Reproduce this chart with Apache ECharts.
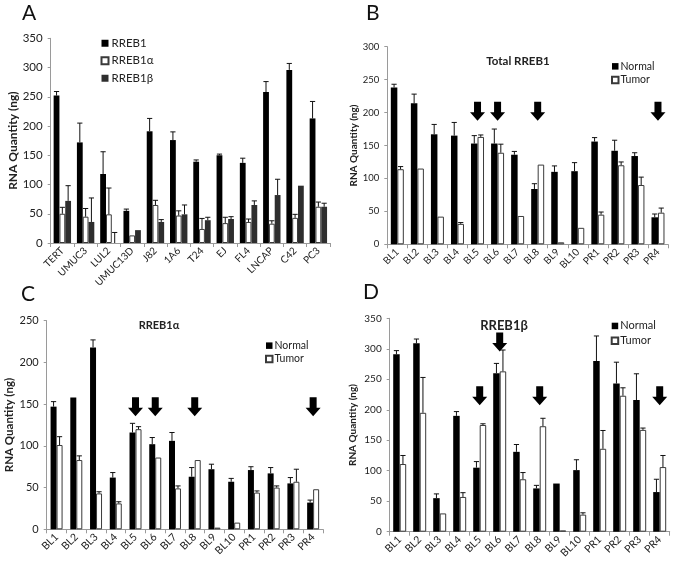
<!DOCTYPE html>
<html>
<head>
<meta charset="utf-8">
<script src="https://cdn.jsdelivr.net/npm/echarts@6/dist/echarts.min.js"></script>
<style>
html,body{margin:0;padding:0;background:#fff;}
#chart{width:678px;height:574px;}
</style>
</head>
<body>
<div id="chart"></div>
<script>
// ---------- Panel A: cell lines ----------
const cellLines = ['TERT','UMUC3','LUL2','UMUC13D','J82','1A6','T24','EJ','FL4','LNCAP','C42','PC3'];
const aRREB1      = [252,172,118,55,191,176,139,150,137,258,296,213];
const aRREB1Err   = [7,33,38,3,22,14,3,2,8,18,11,29];
const aAlpha      = [50,45,49,13,65,47,24,34,36,33,43,62];
const aAlphaErr   = [11,14,45,0,8,8,18,10,5,5,6,8];
const aBeta       = [72,36,0,22,36,49,39,41,65,82,98,62];
const aBetaErr    = [26,41,18,0,4,16,5,4,7,27,0,6];

// ---------- Panels B-D: patient samples ----------
const patients = ['BL1','BL2','BL3','BL4','BL5','BL6','BL7','BL8','BL9','BL10','PR1','PR2','PR3','PR4'];
// B: Total RREB1
const bNormal    = [238,214,167,165,153,153,136,84,110,111,156,142,134,41];
const bNormalErr = [5,14,15,20,12,22,5,8,9,13,6,16,5,5];
const bTumor     = [114,115,42,31,163,139,43,121,3,25,45,120,90,48];
const bTumorErr  = [4,0,0,2,3,13,0,0,0,0,4,5,12,7];
// C: RREB1alpha
const cNormal    = [147,158,218,62,116,102,106,63,72,57,71,67,55,32];
const cNormalErr = [6,0,9,6,11,8,10,11,6,4,4,7,7,3];
const cTumor     = [101,83,43,31,120,86,49,83,2,8,44,50,57,48];
const cTumorErr  = [10,5,2,2,3,0,3,0,0,0,2,2,15,0];
// D: RREB1beta
const dNormal    = [291,309,55,190,105,260,131,71,79,101,280,243,216,65];
const dNormalErr = [6,7,7,7,10,16,12,5,0,17,41,35,43,21];
const dTumor     = [111,195,30,57,175,263,86,173,2,28,136,223,167,106];
const dTumorErr  = [14,58,0,7,2,35,11,13,0,3,30,13,3,19];

// Arrow annotations (sample, level in ng)
const bArrows = [['BL5',202],['BL6',202],['BL8',202],['PR4',202]];
const cArrows = [['BL5',147],['BL6',147],['BL8',147],['PR4',147]];
const dArrows = [['BL5',223],['BL6',311],['BL8',223],['PR4',223]];

// Axis ranges / tick labels
const aAxis = {max:350, interval:50};
const bAxis = {max:300, interval:50};
const cAxis = {max:250, interval:50};
const dAxis = {max:350, interval:50};

const FONT = 'Lato, "Liberation Sans", sans-serif';
const TXT = '#222';
const AXC = '#9a9a9a';
const ARROW = 'path://M4,0 L11,0 L11,10.5 L15,10.5 L7.5,19 L0,10.5 L4,10.5 Z';

const grids = [
  {left:50.7, top:38.3, width:279.3, height:204.7},
  {left:387.3, top:46.7, width:280.7, height:197.6},
  {left:46.7, top:320.7, width:276.3, height:208.6},
  {left:389.7, top:318.3, width:280, height:213.4}
];
const yFont = [11.5, 9.5, 11, 10];
const xFont = [10, 10, 10.5, 10.5];
const nameFont = [12, 10, 11.5, 10];
const nameGap = [29, 29, 25, 32];
const axes = [aAxis, bAxis, cAxis, dAxis];
const cats = [cellLines, patients, patients, patients];

const xAxis = grids.map((g,i)=>({
  type:'category', gridIndex:i, data:cats[i],
  axisLine:{lineStyle:{color:AXC,width:1}},
  axisTick:{show:true,length:4,lineStyle:{color:AXC}},
  axisLabel:{rotate:45, fontSize:xFont[i], fontFamily:FONT, color:TXT, margin:6, interval:0}
}));
const yAxis = grids.map((g,i)=>({
  type:'value', gridIndex:i, min:0, max:axes[i].max, interval:axes[i].interval,
  splitLine:{show:false},
  axisLine:{show:true,lineStyle:{color:AXC,width:1}},
  axisTick:{show:true,length:3,lineStyle:{color:AXC}},
  axisLabel:{fontSize:yFont[i], fontFamily:FONT, color:TXT, margin:8},
  name:'RNA Quantity (ng)', nameLocation:'middle', nameGap:nameGap[i], nameRotate:90,
  nameTextStyle:{fontSize:nameFont[i], fontWeight:'bold', fontFamily:FONT, color:TXT}
}));

const series = [];
function addBars(gi, name, vals, errs, color, k, n, bw){
  const isWhite = color === '#ffffff';
  series.push({
    type:'bar', name:name, xAxisIndex:gi, yAxisIndex:gi, data:vals,
    barWidth:bw, barGap:'0%',
    itemStyle:{color:color, borderColor: isWhite ? '#3a3a3a' : color, borderWidth: isWhite ? 1 : 0},
    emphasis:{disabled:true}
  });
  const off = bw*(k-(n-1)/2);
  series.push({
    type:'custom', xAxisIndex:gi, yAxisIndex:gi, silent:true, z:5,
    data: vals.map((v,j)=>[j, v, v+errs[j]]),
    encode:{x:0, y:[1,2]},
    renderItem:function(params, api){
      const v = api.value(1), h = api.value(2);
      if (!(h > v)) return null;
      const p0 = api.coord([api.value(0), v]);
      const p1 = api.coord([api.value(0), h]);
      const x = p0[0] + off;
      const st = {stroke:'#111', lineWidth:1};
      return {type:'group', children:[
        {type:'line', shape:{x1:x,y1:p0[1],x2:x,y2:p1[1]}, style:st},
        {type:'line', shape:{x1:x-2.6,y1:p1[1],x2:x+2.6,y2:p1[1]}, style:st}
      ]};
    }
  });
}
addBars(0,'RREB1',aRREB1,aRREB1Err,'#000000',0,3,5.8);
addBars(0,'RREB1α',aAlpha,aAlphaErr,'#ffffff',1,3,5.8);
addBars(0,'RREB1β',aBeta,aBetaErr,'#2e2e2e',2,3,5.8);
addBars(1,'Normal',bNormal,bNormalErr,'#000000',0,2,6.5);
addBars(1,'Tumor',bTumor,bTumorErr,'#ffffff',1,2,6.5);
addBars(2,'Normal',cNormal,cNormalErr,'#000000',0,2,6);
addBars(2,'Tumor',cTumor,cTumorErr,'#ffffff',1,2,6);
addBars(3,'Normal',dNormal,dNormalErr,'#000000',0,2,6.5);
addBars(3,'Tumor',dTumor,dTumorErr,'#ffffff',1,2,6.5);

[[1,bArrows],[2,cArrows],[3,dArrows]].forEach(([gi,arr])=>{
  series.push({
    type:'scatter', xAxisIndex:gi, yAxisIndex:gi, data:arr, symbol:ARROW, symbolSize:[15,19],
    itemStyle:{color:'#000', opacity:1}, emphasis:{disabled:true}, silent:true, z:6
  });
});

const legendBase = {orient:'vertical', padding:0, itemGap:0, itemWidth:7, itemHeight:7, icon:'rect', selectedMode:false};
const legend = [
  Object.assign({}, legendBase, {data:['RREB1','RREB1α','RREB1β'], left:100.5, top:34.5,
    textStyle:{fontSize:11.5, fontFamily:FONT, color:TXT, lineHeight:17.5, padding:[0,0,0,-2]}}),
  Object.assign({}, legendBase, {data:['Normal','Tumor'], left:611, top:59.5, itemWidth:6.5, itemHeight:6.5,
    textStyle:{fontSize:10.5, fontFamily:FONT, color:TXT, lineHeight:13.7, padding:[0,0,0,-3]}}),
  Object.assign({}, legendBase, {data:['Normal','Tumor'], left:265, top:339, itemWidth:6.5, itemHeight:6.5,
    textStyle:{fontSize:10.5, fontFamily:FONT, color:TXT, lineHeight:13.3, padding:[0,0,0,-3]}}),
  Object.assign({}, legendBase, {data:['Normal','Tumor'], left:610.7, top:318.6, itemWidth:6.5, itemHeight:6.5,
    textStyle:{fontSize:11, fontFamily:FONT, color:TXT, lineHeight:14.7, padding:[0,0,0,-3]}})
];

const letter = (t,l,tp)=>({text:t, left:l, top:tp, padding:0,
  textStyle:{fontSize:21, fontWeight:'normal', fontFamily:FONT, color:'#111'}});
const ptitle = (t,cx,cy,fs)=>({text:t, left:cx, top:cy-fs*0.6, padding:0, textAlign:'center',
  textStyle:{fontSize:fs, fontWeight:'bold', fontFamily:FONT, color:TXT}});
const title = [
  letter('A',22,2.5), letter('B',366,2.5), letter('C',21,283.5), letter('D',363,282),
  ptitle('Total RREB1',518,61.7,11.5), ptitle('RREB1α',159,327,11), ptitle('RREB1β',504,326.7,13)
];

const chart = echarts.init(document.getElementById('chart'), null, {renderer:'canvas'});
chart.setOption({
  animation:false,
  backgroundColor:'#ffffff',
  title:title,
  legend:legend,
  grid:grids,
  xAxis:xAxis,
  yAxis:yAxis,
  series:series
});
</script>
</body>
</html>
